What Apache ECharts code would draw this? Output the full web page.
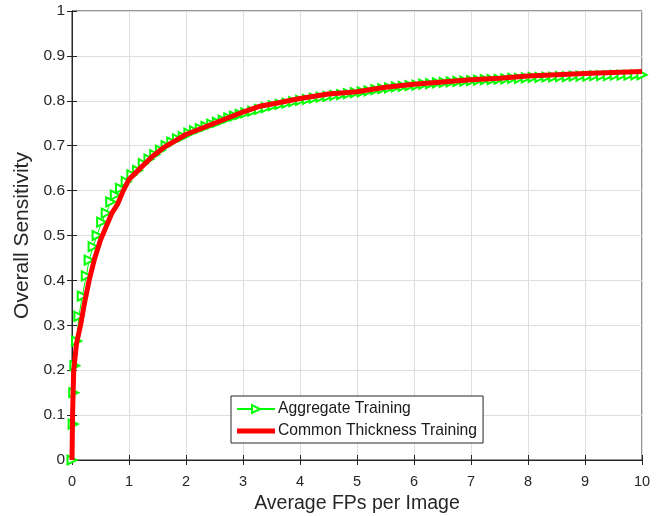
<!DOCTYPE html>
<html>
<head>
  <meta charset="utf-8">
  <script src="https://cdn.jsdelivr.net/npm/echarts@6/dist/echarts.min.js"></script>
</head>
<body style="margin:0;background:#fff;">
  <div id="main" style="width:661px;height:516px;"></div>
  <script type="text/javascript">

  // Aggregate Training (green, > markers)
  var aggX = [0, 0.02, 0.03, 0.05, 0.08, 0.12, 0.18, 0.25, 0.3, 0.37, 0.44, 0.52, 0.6, 0.68, 0.76, 0.85, 0.95,
    1.05, 1.15, 1.25, 1.35, 1.45, 1.55, 1.65, 1.75, 1.85, 1.95, 2.05, 2.15, 2.25, 2.35, 2.45, 2.55, 2.65, 2.75, 2.85, 2.95,
    3.05, 3.17, 3.29, 3.41, 3.53, 3.65, 3.77, 3.89, 4.01, 4.13, 4.25, 4.37, 4.49, 4.61, 4.73, 4.85, 4.97,
    5.09, 5.21, 5.33, 5.45, 5.57, 5.69, 5.81, 5.93, 6.05, 6.17, 6.29, 6.41, 6.53, 6.65, 6.77, 6.89,
    7.01, 7.13, 7.25, 7.37, 7.49, 7.61, 7.73, 7.85, 7.97, 8.09, 8.21, 8.33, 8.45, 8.57, 8.69, 8.81, 8.93,
    9.05, 9.17, 9.29, 9.41, 9.53, 9.65, 9.77, 9.89, 10];
  var aggY = [0, 0.08, 0.15, 0.21, 0.265, 0.32, 0.365, 0.41, 0.445, 0.475, 0.5, 0.53, 0.55, 0.575, 0.59, 0.605, 0.62,
    0.635, 0.645, 0.66, 0.67, 0.68, 0.69, 0.7, 0.708, 0.715, 0.72, 0.728, 0.733, 0.738, 0.743, 0.748, 0.752, 0.757, 0.762, 0.766, 0.77,
    0.773, 0.777, 0.781, 0.785, 0.789, 0.792, 0.795, 0.798, 0.801, 0.803, 0.806, 0.808, 0.81, 0.812, 0.814, 0.816, 0.818,
    0.82, 0.822, 0.825, 0.827, 0.829, 0.831, 0.832, 0.834, 0.835, 0.837, 0.838, 0.84, 0.841, 0.842, 0.843, 0.844,
    0.845, 0.846, 0.847, 0.847, 0.848, 0.849, 0.85, 0.85, 0.851, 0.852, 0.852, 0.853, 0.853, 0.854, 0.854, 0.855, 0.855,
    0.855, 0.856, 0.856, 0.856, 0.857, 0.857, 0.857, 0.858, 0.858];

  // Common Thickness Training (red, thick)
  var comX = [0, 0.01, 0.03, 0.08, 0.15, 0.22, 0.3, 0.4, 0.5, 0.6, 0.7, 0.8, 0.9, 1.0, 1.2, 1.4, 1.6, 1.8, 2.0,
    2.3, 2.6, 3.0, 3.3, 3.6, 4.0, 4.5, 5.0, 5.5, 6.0, 6.5, 7.0, 7.5, 8.0, 8.5, 9.0, 9.5, 10];
  var comY = [0, 0.1, 0.2, 0.26, 0.3, 0.35, 0.4, 0.45, 0.49, 0.52, 0.55, 0.57, 0.6, 0.625, 0.65, 0.675, 0.695, 0.71, 0.725,
    0.74, 0.755, 0.775, 0.788, 0.795, 0.805, 0.815, 0.82, 0.83, 0.837, 0.842, 0.847, 0.85, 0.855, 0.858, 0.861, 0.863, 0.865];

  function zip(xs, ys) {
    return xs.map(function (x, i) { return [x, ys[i]]; });
  }

  var font = 'Liberation Sans, Arial, sans-serif';
  var gridLine = { show: true, lineStyle: { color: '#dedede', width: 1 } };
  var axisCol = '#262626';

  var myChart = echarts.init(document.getElementById('main'));

  var option = {
    animation: false,
    backgroundColor: '#fff',
    grid: {
      left: 72, right: 19, top: 11, bottom: 56,
      outerBoundsMode: 'none', containLabel: false,
      show: true, borderColor: axisCol, borderWidth: 1
    },
    legend: {
      orient: 'vertical',
      left: 231,
      top: 396,
      backgroundColor: '#fff',
      borderColor: axisCol,
      borderWidth: 1,
      borderRadius: 0,
      padding: [5, 6, 4, 5],
      itemGap: 6,
      itemWidth: 38,
      itemHeight: 10,
      textStyle: { fontFamily: font, fontSize: 15.7, color: '#1a1a1a', padding: [0, 0, 0, -2] },
      data: [
        { name: 'Aggregate Training' },
        { name: 'Common Thickness Training', icon: 'path://M0,0L38,0L38,5L0,5Z' }
      ]
    },
    xAxis: [{
      type: 'value', min: 0, max: 10, interval: 1,
      name: 'Average FPs per Image', nameLocation: 'middle', nameGap: 30,
      nameTextStyle: { fontFamily: font, fontSize: 19.5, color: axisCol, verticalAlign: 'top' },
      axisLine: { lineStyle: { color: axisCol } },
      axisTick: { inside: true, length: 5, lineStyle: { color: axisCol } },
      axisLabel: { fontFamily: font, fontSize: 14.5, color: axisCol, margin: 14 },
      splitLine: gridLine
    }, {
      type: 'value', min: 0, max: 10, interval: 1, position: 'top',
      axisLine: { lineStyle: { color: axisCol } },
      axisTick: { inside: true, length: 5, lineStyle: { color: axisCol } },
      axisLabel: { show: false }, splitLine: { show: false }
    }],
    yAxis: [{
      type: 'value', min: 0, max: 1, interval: 0.1,
      name: 'Overall Sensitivity', nameLocation: 'middle', nameGap: 39,
      nameTextStyle: { fontFamily: font, fontSize: 21, color: axisCol },
      axisLine: { show: true, lineStyle: { color: axisCol } },
      axisTick: { show: true, inside: true, length: 5, lineStyle: { color: axisCol } },
      axisLabel: { fontFamily: font, fontSize: 15.5, color: axisCol, margin: 7 },
      splitLine: gridLine
    }, {
      type: 'value', min: 0, max: 1, interval: 0.1, position: 'right',
      axisLine: { show: true, lineStyle: { color: axisCol } },
      axisTick: { show: true, inside: true, length: 5, lineStyle: { color: axisCol } },
      axisLabel: { show: false }, splitLine: { show: false }
    }],
    series: [{
      name: 'Aggregate Training',
      type: 'line',
      data: zip(aggX, aggY),
      symbol: 'emptyTriangle',
      symbolRotate: -90,
      symbolSize: 9,
      showSymbol: true,
      showAllSymbol: true,
      color: '#00ff00',
      itemStyle: { color: '#00ff00', borderColor: '#00ff00', borderWidth: 1 },
      lineStyle: { color: '#00ff00', width: 1 },
      z: 2
    }, {
      name: 'Common Thickness Training',
      type: 'line',
      data: zip(comX, comY),
      symbol: 'none',
      color: '#ff0000',
      lineStyle: { color: '#ff0000', width: 5 },
      z: 3
    }]
  };

  myChart.setOption(option);

  </script>
</body>
</html>
